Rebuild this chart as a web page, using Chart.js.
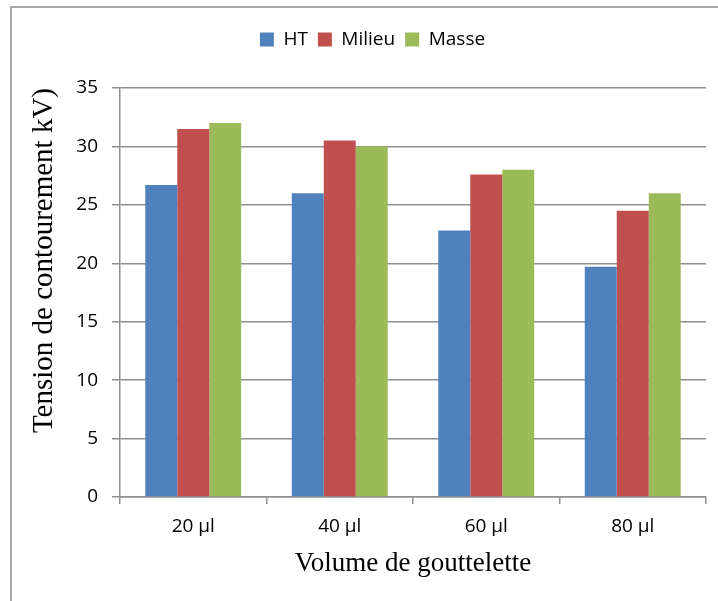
<!DOCTYPE html>
<html>
<head>
<meta charset="utf-8">
<script src="https://cdn.jsdelivr.net/npm/chart.js@4/dist/chart.umd.min.js"></script>
<style>
  html, body { margin: 0; padding: 0; background: #fff; }
  #wrap { position: relative; width: 718px; height: 601px; overflow: hidden; }
  #frame { position: absolute; left: 10px; top: 6px; right: -10px; bottom: -10px;
           border-left: 2px solid #a8a8a8; border-top: 2px solid #a8a8a8; }
  #c { position: absolute; left: 0; top: 0; }
</style>
</head>
<body>
<div id="wrap">
  <div id="frame"></div>
  <canvas id="c" width="718" height="601"></canvas>
</div>
<script>
// Flashover voltage by droplet volume, per electrode position
const categories = ['20 µl', '40 µl', '60 µl', '80 µl'];
const seriesNames = ['HT', 'Milieu', 'Masse'];
const htValues = [26.7, 26.0, 22.8, 19.7];
const milieuValues = [31.5, 30.5, 27.6, 24.5];
const masseValues = [32.0, 30.0, 28.0, 26.0];
const yTicks = [0, 5, 10, 15, 20, 25, 30, 35];

const colors = ['#4F81BD', '#C0504D', '#9BBB59'];
const gridColor = '#8f8f8f';
const sans = '"Open Sans", "Liberation Sans", sans-serif';
const serif = '"Liberation Serif", "DejaVu Serif", serif';

// Extra room under the legend before the plot area
const legendGap = {
  id: 'legendGap',
  beforeInit(chart) {
    const fit = chart.legend.fit;
    chart.legend.fit = function () {
      fit.bind(chart.legend)();
      this.height += 29;
    };
  }
};

new Chart(document.getElementById('c'), {
  type: 'bar',
  data: {
    labels: categories,
    datasets: [htValues, milieuValues, masseValues].map((vals, i) => ({
      label: seriesNames[i],
      data: vals,
      backgroundColor: colors[i],
      borderWidth: 0,
      categoryPercentage: 0.655,
      barPercentage: 1.0
    }))
  },
  options: {
    responsive: false,
    animation: false,
    devicePixelRatio: 1,
    layout: { padding: { left: 27, right: 0, top: 20, bottom: 0 } },
    plugins: {
      tooltip: { enabled: false },
      legend: {
        position: 'top',
        labels: {
          boxWidth: 14,
          boxHeight: 14,
          padding: 10,
          color: '#000',
          font: { family: sans, size: 19 }
        }
      }
    },
    scales: {
      x: {
        offset: true,
        afterFit(s) { s.height = 104; },
        grid: { display: true, offset: true, drawOnChartArea: false, drawTicks: true,
                tickLength: 7, color: gridColor, lineWidth: 1.5 },
        border: { display: true, color: gridColor, width: 1.5 },
        ticks: { color: '#000', padding: 11, font: { family: sans, size: 19 } },
        title: {
          display: true, text: 'Volume de gouttelette', color: '#000',
          font: { family: serif, size: 27 }, padding: { top: 0, bottom: 21 }
        }
      },
      y: {
        min: 0, max: 35,
        afterFit(s) { s.width = 93; },
        afterBuildTicks(s) { s.ticks = yTicks.map(v => ({ value: v })); },
        grid: { color: gridColor, lineWidth: 1.5, tickLength: 8 },
        border: { display: true, color: gridColor, width: 1.5 },
        ticks: { color: '#000', padding: 14, font: { family: sans, size: 19 } },
        title: {
          display: true, text: 'Tension de contourement kV)', color: '#000', align: 'end',
          font: { family: serif, size: 29 }, padding: { top: 0, bottom: 0 }
        }
      },
      yRight: {
        position: 'right',
        display: true,
        afterFit(s) { s.width = 12; },
        grid: { display: false, drawTicks: false },
        border: { display: false },
        ticks: { display: false }
      }
    }
  },
  plugins: [legendGap]
});
</script>
</body>
</html>
